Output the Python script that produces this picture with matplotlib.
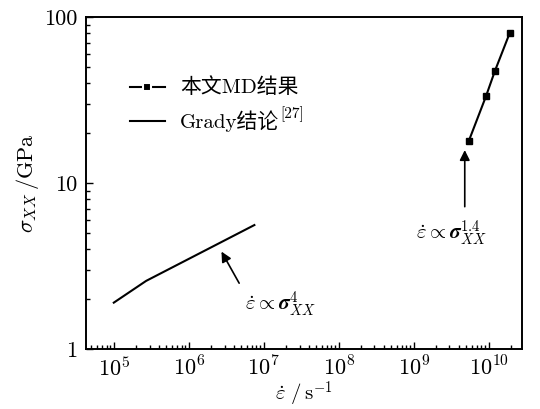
import matplotlib
matplotlib.use("Agg")
import matplotlib.pyplot as plt
from matplotlib.lines import Line2D
from matplotlib.ticker import LogLocator, FixedLocator, FixedFormatter, NullFormatter

plt.rcParams['font.family'] = ['cmr10', 'Noto Sans CJK SC', 'DejaVu Sans']
plt.rcParams['mathtext.fontset'] = 'cm'
plt.rcParams['axes.formatter.use_mathtext'] = True
plt.rcParams['axes.unicode_minus'] = False

# MD simulation results
md_rate = [5.4e9, 9.2e9, 1.21e10, 1.9e10]
md_stress = [17.8, 33.3, 47.3, 79.8]

# Grady model
grady_rate = [1e5, 2.7e5, 7.5e6]
grady_stress = [1.9, 2.57, 5.58]

x_ticks = [1e5, 1e6, 1e7, 1e8, 1e9, 1e10]
x_ticklabels = [r'$10^{5}$', r'$10^{6}$', r'$10^{7}$', r'$10^{8}$', r'$10^{9}$', r'$10^{10}$']
y_ticks = [1, 10, 100]
y_ticklabels = ['1', '10', '100']

legend_md = '本文MD结果'
legend_grady = 'Grady结论'
legend_ref = '[27]'

fig = plt.figure(figsize=(5.4, 4.09), dpi=100)
ax = fig.add_axes([0.159, 0.147, 0.808, 0.811])

ax.plot(md_rate, md_stress, '-s', color='black', lw=1.5, ms=5)
ax.plot(grady_rate, grady_stress, '-', color='black', lw=1.5)

ax.set_xscale('log')
ax.set_yscale('log')
ax.set_xlim(4.24e4, 2.8e10)
ax.set_ylim(1, 100)

ax.xaxis.set_major_locator(FixedLocator(x_ticks))
ax.xaxis.set_major_formatter(FixedFormatter(x_ticklabels))
ax.xaxis.set_minor_locator(LogLocator(base=10, subs=range(2, 10), numticks=20))
ax.xaxis.set_minor_formatter(NullFormatter())
ax.yaxis.set_major_locator(FixedLocator(y_ticks))
ax.yaxis.set_major_formatter(FixedFormatter(y_ticklabels))
ax.yaxis.set_minor_locator(LogLocator(base=10, subs=range(2, 10), numticks=20))
ax.yaxis.set_minor_formatter(NullFormatter())

ax.tick_params(which='both', direction='in', top=False, right=False,
               labelsize=16, width=1.0)
ax.tick_params(axis='x', which='major', length=5, pad=5)
ax.tick_params(axis='y', which='major', length=5, pad=6)
ax.tick_params(which='minor', length=3)
for s in ax.spines.values():
    s.set_linewidth(1.4)

ax.set_xlabel(r'$\dot{\varepsilon}\ /\,\mathrm{s}^{-1}$', fontsize=15, labelpad=0)
ax.set_ylabel(r'$\sigma_{XX}\,/\mathrm{GPa}$', fontsize=16, labelpad=2)

# legend drawn by hand in axes coordinates
tr = ax.transAxes
hx0, hx1, tx = 0.101, 0.181, 0.216
y1, y2 = 0.789, 0.687
ax.add_line(Line2D([hx0, hx1], [y1, y1], transform=tr, color='black', lw=1.5))
ax.add_line(Line2D([(hx0 + hx1) / 2], [y1], transform=tr, marker='s', ms=6,
                   mfc='black', mec='white', mew=1.5, ls='none'))
ax.add_line(Line2D([hx0, hx1], [y2, y2], transform=tr, color='black', lw=1.5))
ax.text(tx, y1, legend_md, transform=tr, fontsize=15, va='center', ha='left')
t2 = ax.text(tx, y2, legend_grady, transform=tr, fontsize=15, va='center', ha='left')
fig.canvas.draw()
bb = t2.get_window_extent().transformed(tr.inverted())
ax.text(bb.x1 + 0.002, bb.y1 + 0.012, legend_ref, transform=tr, fontsize=11,
        va='top', ha='left')

# power-law annotations
ax.annotate('', xy=(4.8e9, 15.8), xytext=(4.8e9, 7.2),
            arrowprops=dict(arrowstyle='-|>', color='black', lw=1.2,
                            mutation_scale=15, shrinkA=0, shrinkB=0))
ax.text(1.06e9, 6.15, r'$\dot{\varepsilon}\propto\boldsymbol{\sigma}_{XX}^{1.4}$',
        ha='left', va='top', fontsize=15)
ax.annotate('', xy=(2.73e6, 3.86), xytext=(4.7e6, 2.49),
            arrowprops=dict(arrowstyle='-|>', color='black', lw=1.2,
                            mutation_scale=15, shrinkA=0, shrinkB=0))
ax.text(5.6e6, 2.27, r'$\dot{\varepsilon}\propto\boldsymbol{\sigma}_{XX}^{4}$',
        ha='left', va='top', fontsize=15)

fig.savefig('out.png', dpi=100)
